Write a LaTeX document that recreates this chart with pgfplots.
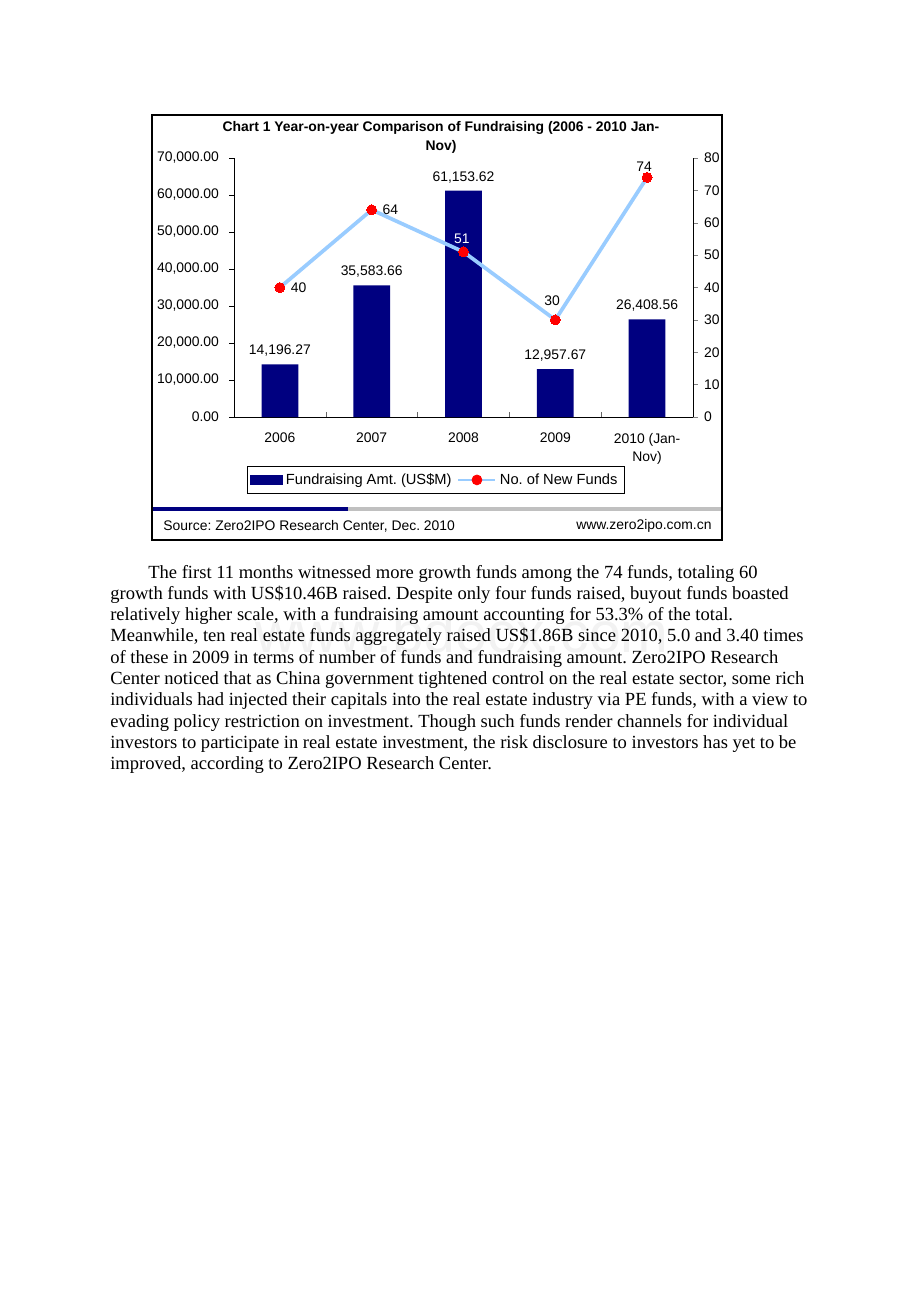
\documentclass[border=0pt]{standalone}
\usepackage{pgfplots}
\pgfplotsset{compat=1.18}
\usepackage{fontspec}
\setmainfont{Liberation Serif}
\newfontfamily\arial{Liberation Sans}
\newcommand\chartfont{\arial\fontsize{9}{10.8}\selectfont}
\definecolor{navybar}{RGB}{0,0,128}
\definecolor{lineblue}{RGB}{153,204,255}
\definecolor{stripgray}{RGB}{192,192,192}
\frenchspacing
\pgfplotstableread{
x y lab
0 14196.27 14,196.27
1 35583.66 35,583.66
2 61153.62 61,153.62
3 12957.67 12,957.67
4 26408.56 26,408.56
}\fundamt
\pgfplotstableread{
x y
0 40
1 64
2 51
3 30
4 74
}\fundnum
\begin{document}
\begin{tikzpicture}
\begin{scope}[x=0.647pt,y=-0.647pt]
\path[use as bounding box] (0,0) rectangle (920,1302);
\fill[white] (0,0) rectangle (920,1302);
\node[text=black!5, font=\arial\fontsize{37}{40}\selectfont] at (462,632) {www.bdocx.com};
\draw[black, line width=0.7pt] (152,115) rectangle (722,540);
\fill[navybar] (153,507) rectangle (348,511);
\fill[stripgray] (348,507) rectangle (721,511);
\node[font=\arial\bfseries\fontsize{9}{11.8}\selectfont, align=center] at (441,137.5) {Chart 1 Year-on-year Comparison of Fundraising (2006 - 2010 Jan-\\Nov)};
\node[font=\chartfont, anchor=west] at (158,526) {Source: Zero2IPO Research Center, Dec. 2010};
\node[font=\chartfont, anchor=east] at (717,526) {www.zero2ipo.com.cn};
\begin{scope}[every node/.style={anchor=base west, inner sep=0pt, font=\fontsize{12}{13.8}\selectfont}]
\node at (148,578) {The first 11 months witnessed more growth funds among the 74 funds, totaling 60};
\node at (110,599.3) {growth funds with US\$10.46B raised. Despite only four funds raised, buyout funds boasted};
\node at (110,620.6) {relatively higher scale, with a fundraising amount accounting for 53.3\% of the total.};
\node at (110,641.9) {Meanwhile, ten real estate funds aggregately raised US\$1.86B since 2010, 5.0 and 3.40 times};
\node at (110,663.2) {of these in 2009 in terms of number of funds and fundraising amount. Zero2IPO Research};
\node at (110,684.5) {Center noticed that as China government tightened control on the real estate sector, some rich};
\node at (110,705.8) {individuals had injected their capitals into the real estate industry via PE funds, with a view to};
\node at (110,727.1) {evading policy restriction on investment. Though such funds render channels for individual};
\node at (110,748.4) {investors to participate in real estate investment, the risk disclosure to investors has yet to be};
\node at (110,769.7) {improved, according to Zero2IPO Research Center.};
\end{scope}
\end{scope}
\begin{axis}[
  at={(151.40pt,-269.80pt)}, anchor=south west,
  scale only axis, width=296.97pt, height=167.57pt,
  xmin=-0.5, xmax=4.5, ymin=0, ymax=70000,
  axis y line*=left, axis x line*=bottom,
  axis line style={black, line width=0.5pt},
  tick align=outside, major tick length=3.2pt, minor tick length=3.2pt,
  xtick={0,...,4},
  xticklabels={2006,2007,2008,2009,{2010 (Jan-\\Nov)}},
  major x tick style={draw=none},
  minor xtick={-0.5,0.5,...,4.5},
  minor x tick style={yshift=3.2pt, black!60},
  xticklabel style={align=center, font=\arial\fontsize{9}{12}\selectfont, yshift=-3.8pt},
  ytick={0,10000,...,70000},
  yticklabel style={font=\chartfont, xshift=-3pt, /pgf/number format/.cd, fixed, fixed zerofill, precision=2, 1000 sep={,}},
  y tick style={black},
  /pgf/number format/assume math mode=true,
  scaled y ticks=false,
  clip=false,
]
\addplot[ybar, bar width=0.4, fill=navybar, draw=none,
  nodes near coords, point meta=explicit symbolic,
  every node near coord/.append style={font=\chartfont, black, yshift=1.5pt}]
  table[x=x, y=y, meta=lab] {\fundamt};
\end{axis}
\begin{axis}[
  at={(151.40pt,-269.80pt)}, anchor=south west,
  scale only axis, width=296.97pt, height=167.57pt,
  xmin=-0.5, xmax=4.5, ymin=0, ymax=80,
  axis y line*=right, axis x line=none,
  axis line style={black, line width=0.5pt},
  tick align=outside, major tick length=3.2pt,
  ytick={0,10,...,80},
  yticklabel style={font=\chartfont, xshift=0.5pt},
  /pgf/number format/assume math mode=true,
  clip=false,
  legend columns=2,
  legend style={at={(0.439,-0.243)}, anchor=center, draw=black, line width=0.5pt,
    font=\arial\fontsize{9.5}{11}\selectfont, inner sep=2.2pt,
    /tikz/every even column/.append style={column sep=1.5pt}},
  legend cell align=left,
  lbl/.style={draw=none, mark=none, forget plot, nodes near coords, point meta=explicit symbolic},
]
\addlegendimage{legend image code/.code={\fill[navybar] (2.5pt,-2.9pt) rectangle (23pt,2.9pt);}}
\addlegendimage{legend image code/.code={\draw[lineblue, line width=1.8pt] (0pt,0pt) -- (24pt,0pt); \fill[red] (12pt,0pt) circle (3.2pt);}}
\addplot[color=lineblue, line width=2.4pt, mark=*, forget plot,
  mark options={fill=red, draw=red, line width=0pt}, mark size=3.2pt]
  table[x=x, y=y] {\fundnum};
\legend{Fundraising Amt. (US\$M), No. of New Funds}
\addplot[lbl, every node near coord/.append style={font=\chartfont, anchor=west, black, xshift=3.5pt}]
  coordinates {(0,40) [40] (1,64) [64]};
\addplot[lbl, every node near coord/.append style={font=\chartfont, anchor=south, white, yshift=2pt, xshift=-1pt}]
  coordinates {(2,51) [51]};
\addplot[lbl, every node near coord/.append style={font=\chartfont, anchor=south, black, xshift=-2pt, yshift=6pt}]
  coordinates {(3,30) [30]};
\addplot[lbl, every node near coord/.append style={font=\chartfont, anchor=south, black, xshift=-2pt}]
  coordinates {(4,74) [74]};
\end{axis}
\end{tikzpicture}
\end{document}
